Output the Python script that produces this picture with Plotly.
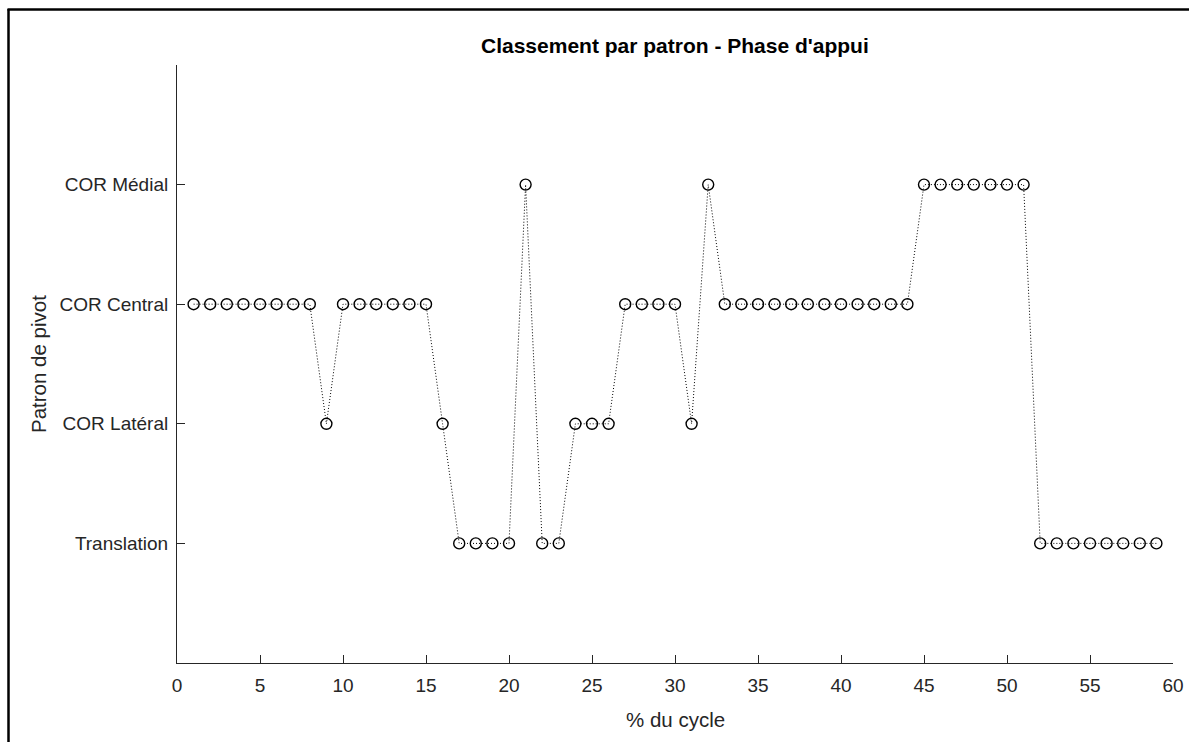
import plotly.graph_objects as go

# Pivot pattern classification over the stance phase (% of gait cycle)
cycle_pct = list(range(1, 60))
pattern_labels = ["Translation", "COR Latéral", "COR Central", "COR Médial"]
pattern_codes = [1, 2, 3, 4]
pattern_seq = [
    3, 3, 3, 3, 3, 3, 3, 3,        # 1-8
    2,                             # 9
    3, 3, 3, 3, 3, 3,              # 10-15
    2,                             # 16
    1, 1, 1, 1,                    # 17-20
    4,                             # 21
    1, 1,                          # 22-23
    2, 2, 2,                       # 24-26
    3, 3, 3, 3,                    # 27-30
    2,                             # 31
    4,                             # 32
    3, 3, 3, 3, 3, 3, 3, 3, 3, 3, 3, 3,  # 33-44
    4, 4, 4, 4, 4, 4, 4,           # 45-51
    1, 1, 1, 1, 1, 1, 1, 1,        # 52-59
]
x_ticks = list(range(0, 61, 5))

W, H = 1189, 742
L, R, T, B = 177, 16, 65, 79
plot_w = W - L - R
plot_h = H - T - B

FONT = "Liberation Sans, Arial, Helvetica, sans-serif"
AX = "#262626"

fig = go.Figure()
fig.add_trace(go.Scatter(
    x=cycle_pct, y=pattern_seq, mode="lines+markers",
    line=dict(color="black", width=1, dash="1px,2px"),
    marker=dict(symbol="circle-open", size=11, color="black",
                line=dict(color="black", width=1.4)),
    showlegend=False, cliponaxis=False,
))

def px_x(p):
    return (p - L) / plot_w

def px_y(p):
    return (H - B - p) / plot_h

fig.update_layout(
    width=W, height=H,
    margin=dict(l=L, r=R, t=T, b=B, autoexpand=False),
    paper_bgcolor="white", plot_bgcolor="white",
    font=dict(family=FONT, color=AX, size=19),
    xaxis=dict(range=[0, 60], tickvals=x_ticks, ticks="inside", ticklen=8,
               tickcolor=AX, tickwidth=1, showline=True, linecolor=AX,
               linewidth=1, showgrid=False, zeroline=False, automargin=False,
               ticklabelstandoff=5,
               tickfont=dict(size=19, color=AX), mirror=False),
    yaxis=dict(range=[0, 5], tickvals=pattern_codes, ticktext=pattern_labels,
               ticks="inside", ticklen=8, tickcolor=AX, tickwidth=1,
               showline=True, linecolor=AX, linewidth=1, showgrid=False,
               zeroline=False, automargin=False, ticklabelstandoff=4,
               tickfont=dict(size=19, color=AX)),
    annotations=[
        dict(text="<b>Classement par patron - Phase d'appui</b>",
             xref="paper", yref="paper", x=0.5, y=px_y(45),
             xanchor="center", yanchor="middle", showarrow=False,
             font=dict(size=21, color="black", family=FONT)),
        dict(text="% du cycle", xref="paper", yref="paper",
             x=0.5, y=px_y(719), xanchor="center", yanchor="middle",
             showarrow=False, font=dict(size=20.5, color=AX, family=FONT)),
        dict(text="Patron de pivot", xref="paper", yref="paper",
             x=px_x(38), y=px_y(364), xanchor="center", yanchor="middle",
             textangle=-90, showarrow=False,
             font=dict(size=20.5, color=AX, family=FONT)),
    ],
    shapes=[
        dict(type="line", xref="paper", yref="paper",
             x0=px_x(8.5), x1=px_x(8.5), y0=px_y(9), y1=px_y(H + 5),
             line=dict(color="black", width=2.5)),
        dict(type="line", xref="paper", yref="paper",
             x0=px_x(7.5), x1=px_x(W + 5), y0=px_y(9.5), y1=px_y(9.5),
             line=dict(color="black", width=2.5)),
    ],
)

fig.write_html("out.html")
